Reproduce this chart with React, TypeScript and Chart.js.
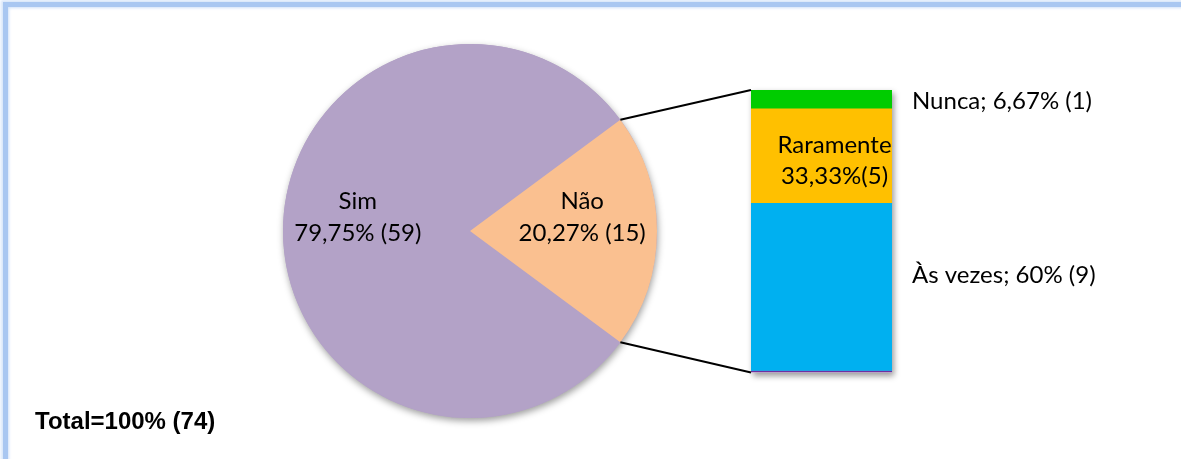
import React, { useEffect, useRef } from "react";
import { Chart, registerables } from "chart.js";

Chart.register(...registerables);

// ---- data ----
const pieLabels = ["Sim", "Não"];
const pieValues = [59, 15];
const pieValueText = ["79,75% (59)", "20,27% (15)"];
const pieColors = ["#b3a2c7", "#fac090"];

// stacked bar (bottom to top)
const barLabels = ["Às vezes", "Raramente", "Nunca"];
const barValues = [9, 5, 1];
const barValueText = ["60% (9)", "33,33%(5)", "6,67% (1)"];
const barColors = ["#00b0f0", "#ffc000", "#00cc00"];

const totalText = "Total=100% (74)";

const W = 1181;
const H = 459;
const FONT = "Lato, 'Noto Sans', sans-serif";

export default function App() {
  const pieRef = useRef<HTMLCanvasElement>(null);
  const barRef = useRef<HTMLCanvasElement>(null);

  useEffect(() => {
    const pieTotal = pieValues.reduce((a, b) => a + b, 0);
    // center the second slice ("Não") on the right (east)
    const rotation = 90 - (360 * (pieValues[0] + pieValues[1] / 2)) / pieTotal;

    const pieDecor = {
      id: "pieDecor",
      beforeDatasetsDraw(chart: any) {
        const arc = chart.getDatasetMeta(0).data[0];
        if (!arc) return;
        const { x, y, outerRadius } = arc.getProps(["x", "y", "outerRadius"], true);
        const ctx = chart.ctx;
        ctx.save();
        ctx.shadowColor = "rgba(0,0,0,0.38)";
        ctx.shadowBlur = 7;
        ctx.shadowOffsetX = 1;
        ctx.shadowOffsetY = 3;
        ctx.fillStyle = pieColors[0];
        ctx.beginPath();
        ctx.arc(x, y, outerRadius, 0, Math.PI * 2);
        ctx.fill();
        ctx.restore();
      },
      afterDatasetsDraw(chart: any) {
        const ctx = chart.ctx;
        const meta = chart.getDatasetMeta(0);
        ctx.save();
        ctx.fillStyle = "#000";
        ctx.textAlign = "center";
        ctx.textBaseline = "middle";
        ctx.font = `24px ${FONT}`;
        meta.data.forEach((arc: any, i: number) => {
          const p = arc.getProps(["x", "y", "startAngle", "endAngle", "outerRadius"], true);
          const mid = (p.startAngle + p.endAngle) / 2;
          const lx = p.x + Math.cos(mid) * p.outerRadius * 0.6;
          const ly = p.y + Math.sin(mid) * p.outerRadius * 0.6 - 14;
          ctx.fillText(pieLabels[i], lx, ly - 16);
          ctx.fillText(pieValueText[i], lx, ly + 16);
        });
        ctx.textAlign = "left";
        ctx.font = `bold 24px 'Liberation Sans', Arial, sans-serif`;
        ctx.fillText(totalText, 35, 422);
        ctx.restore();
      },
    };

    const pieChart = new Chart(pieRef.current!, {
      type: "pie",
      data: {
        labels: pieLabels,
        datasets: [
          {
            data: pieValues,
            backgroundColor: pieColors,
            borderWidth: 0,
          },
        ],
      },
      options: {
        responsive: false,
        animation: false,
        rotation,
        layout: { padding: { left: 283, right: W - 283 - 374, top: 44, bottom: H - 44 - 374 } },
        plugins: { legend: { display: false }, tooltip: { enabled: false } },
      },
      plugins: [pieDecor],
    });

    const barDecor = {
      id: "barDecor",
      beforeDatasetsDraw(chart: any) {
        const ctx = chart.ctx;
        const els = chart.data.datasets.map((_: any, i: number) => chart.getDatasetMeta(i).data[0]);
        const left = els[0].x - els[0].width / 2;
        const right = els[0].x + els[0].width / 2;
        const bottom = els[0].base;
        const top = els[els.length - 1].y;
        ctx.save();
        ctx.shadowColor = "rgba(0,0,0,0.4)";
        ctx.shadowBlur = 6;
        ctx.shadowOffsetX = 2;
        ctx.shadowOffsetY = 3;
        ctx.fillStyle = "#ffffff";
        ctx.fillRect(left, top, right - left, bottom - top);
        ctx.restore();
      },
      afterDatasetsDraw(chart: any) {
        const ctx = chart.ctx;
        const els = chart.data.datasets.map((_: any, i: number) => chart.getDatasetMeta(i).data[0]);
        const left = els[0].x - els[0].width / 2;
        const right = els[0].x + els[0].width / 2;
        const bottom = els[0].base;
        const top = els[els.length - 1].y;

        // connector lines from the "Não" slice
        const arc = pieChart.getDatasetMeta(0).data[1] as any;
        const p = arc.getProps(["x", "y", "startAngle", "endAngle", "outerRadius"], true);
        const sx = p.x + Math.cos(p.startAngle) * p.outerRadius;
        const sy = p.y + Math.sin(p.startAngle) * p.outerRadius;
        const ex = p.x + Math.cos(p.endAngle) * p.outerRadius;
        const ey = p.y + Math.sin(p.endAngle) * p.outerRadius;
        ctx.save();
        ctx.strokeStyle = "#000";
        ctx.lineWidth = 2;
        ctx.beginPath();
        ctx.moveTo(sx, sy);
        ctx.lineTo(left, top);
        ctx.moveTo(ex, ey);
        ctx.lineTo(left, bottom);
        ctx.stroke();

        // labels
        ctx.fillStyle = "#000";
        ctx.font = `24px ${FONT}`;
        ctx.textBaseline = "middle";
        // Às vezes (outside right)
        {
          const e = els[0];
          const my = (e.y + e.base) / 2;
          ctx.textAlign = "left";
          ctx.fillText(`${barLabels[0]}; ${barValueText[0]}`, right + 20, my - 12);
        }
        // Raramente (inside)
        {
          const e = els[1];
          const my = (e.y + e.base) / 2;
          ctx.textAlign = "center";
          ctx.fillText(barLabels[1], e.x + 13, my - 11);
          ctx.fillText(barValueText[1], e.x + 13, my + 20);
        }
        // Nunca (outside right)
        {
          const e = els[2];
          const my = (e.y + e.base) / 2;
          ctx.textAlign = "left";
          ctx.fillText(`${barLabels[2]}; ${barValueText[2]}`, right + 20, my + 2);
        }
        ctx.restore();
      },
    };

    const barTotal = barValues.reduce((a, b) => a + b, 0);
    const barChart = new Chart(barRef.current!, {
      type: "bar",
      data: {
        labels: ["Não"],
        datasets: barLabels.map((l, i) => ({
          label: l,
          data: [barValues[i]],
          backgroundColor: barColors[i],
          borderColor: i === 0 ? "#7030a0" : barColors[i],
          borderWidth: i === 0 ? { top: 0, left: 0, right: 0, bottom: 2 } : 0,
          borderSkipped: false,
          barPercentage: 1,
          categoryPercentage: 1,
        })),
      },
      options: {
        responsive: false,
        animation: false,
        layout: { padding: { left: 751, right: W - 892, top: 90, bottom: H - 372.5 } },
        scales: {
          x: { stacked: true, display: false },
          y: { stacked: true, display: false, min: 0, max: barTotal },
        },
        plugins: { legend: { display: false }, tooltip: { enabled: false } },
      },
      plugins: [barDecor],
    });

    return () => {
      barChart.destroy();
      pieChart.destroy();
    };
  }, []);

  return (
    <>
      <style>{`body{margin:0;}`}</style>
      <div
        style={{
          position: "relative",
          width: W,
          height: H,
          overflow: "hidden",
          background: "#fff",
        }}
      >
        <div
          style={{
            position: "absolute",
            left: 3,
            top: 2,
            width: 1400,
            height: 700,
            border: "5px solid #a9c7f1",
            boxShadow: "0 0 3px 2px #d6e5fa, inset 0 0 3px 1px #cfe1f9",
            boxSizing: "border-box",
          }}
        />
        <canvas
          ref={pieRef}
          width={W}
          height={H}
          style={{ position: "absolute", left: 0, top: 0, width: W, height: H }}
        />
        <canvas
          ref={barRef}
          width={W}
          height={H}
          style={{ position: "absolute", left: 0, top: 0, width: W, height: H, pointerEvents: "none" }}
        />
      </div>
    </>
  );
}
